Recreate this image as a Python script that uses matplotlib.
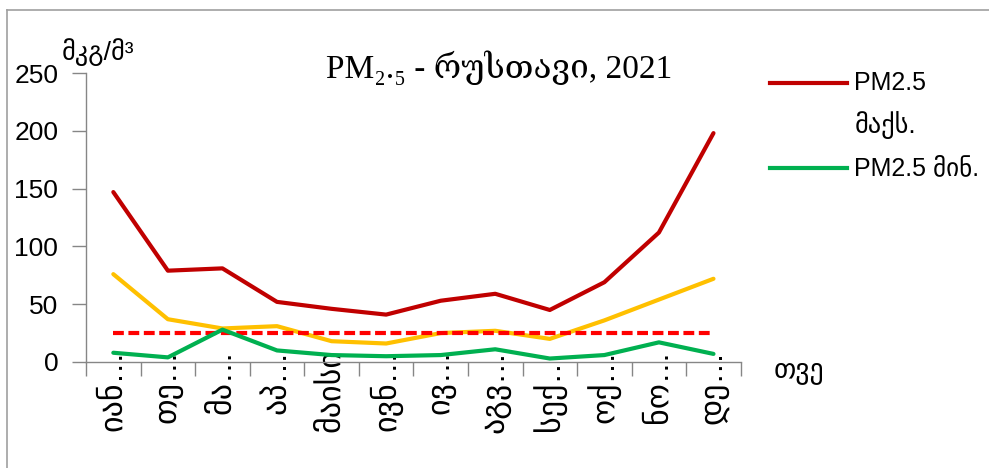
# PM2.5 monthly values, Rustavi 2021

import numpy as np
import matplotlib
matplotlib.use('Agg')
import matplotlib.pyplot as plt
from matplotlib.lines import Line2D

plt.rcParams['font.family'] = ['Liberation Sans', 'DejaVu Sans']

months = ['იან…', 'თე…', 'მა…', 'აპ…', 'მაისი', 'ივნ…',
          'ივ…', 'აგვ…', 'სექ…', 'ოქ…', 'ნო…', 'დე…']
pm25_max = [147, 79, 81, 52, 46, 41, 53, 59, 45, 69, 112, 198]
pm25_avg = [76, 37, 29, 31, 18, 16, 25, 27, 20, 36, 54, 72]
pm25_min = [8, 4, 28, 10, 6, 5, 6, 11, 3, 6, 17, 7]
norm = [25] * 12

grey = '#868686'

fig = plt.figure(figsize=(9.89, 4.68), dpi=100)
ax = fig.add_axes([0.087, 0.2265, 0.662, 0.6175])

x = np.arange(len(months))
ax.plot(x, pm25_max, color='#C00000', lw=3, solid_capstyle='round', zorder=3)
ax.plot(x, pm25_avg, color='#FFC000', lw=3, solid_capstyle='round', zorder=2)
ax.plot(x, norm, color='#FF0000', lw=3, linestyle=(0, (2.6, 1.1)), zorder=2)
ax.plot(x, pm25_min, color='#00B050', lw=3, solid_capstyle='round', zorder=3)

ax.set_xlim(-0.5, len(months) - 0.5)
ax.set_ylim(0, 250)
ax.set_yticks(np.arange(0, 251, 50))

# ticks between categories, labels at the centres
ax.set_xticks(np.arange(-0.5, len(months), 1))
ax.set_xticklabels([])
ax.set_xticks(x, minor=True)
ax.set_xticklabels(months, minor=True, rotation=90, fontsize=23)
ax.tick_params(axis='x', which='major', length=10, width=1, color=grey)
ax.tick_params(axis='x', which='minor', length=0, pad=-9)
ax.tick_params(axis='y', length=10, width=1, color=grey, pad=10, labelsize=19)

for side in ['top', 'right']:
    ax.spines[side].set_visible(False)
for side in ['left', 'bottom']:
    ax.spines[side].set_color(grey)
    ax.spines[side].set_linewidth(1)

fig.text(0.505, 0.855, 'PM₂.₅ - რუსთავი, 2021', ha='center', va='center',
         fontsize=24, family=['Liberation Serif', 'DejaVu Serif', 'DejaVu Sans'])
fig.text(0.0995, 0.888, 'მკგ/მ³', ha='center', va='center', fontsize=19)
fig.text(0.808, 0.207, 'თვე', ha='center', va='center', fontsize=20)

# legend (only max and min)
fig.add_artist(Line2D([0.779, 0.856], [0.823, 0.823], color='#C00000', lw=3))
fig.add_artist(Line2D([0.779, 0.856], [0.641, 0.641], color='#00B050', lw=3))
fig.text(0.864, 0.823, 'PM2.5', va='center', fontsize=18)
fig.text(0.864, 0.733, 'მაქს.', va='center', fontsize=19)
fig.text(0.864, 0.641, 'PM2.5 მინ.', va='center', fontsize=18)

# chart border
fig.add_artist(Line2D([0.007, 0.007], [0.0, 0.978], color='#A0A0A0', lw=1.2))
fig.add_artist(Line2D([0.007, 1.0], [0.978, 0.978], color='#A0A0A0', lw=1.2))

fig.savefig('out.png', dpi=100)
